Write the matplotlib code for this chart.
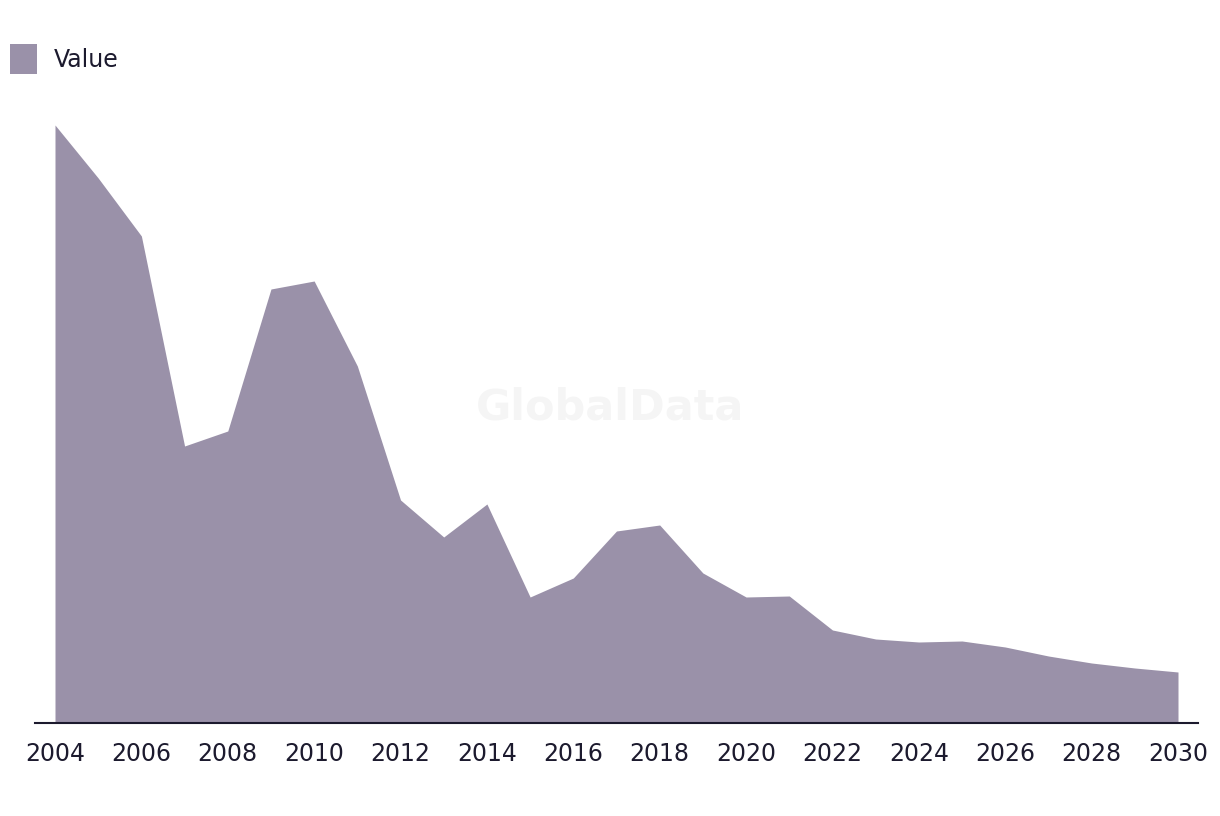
import matplotlib
matplotlib.use('agg')
import matplotlib.pyplot as plt

years = list(range(2004, 2031))
values = [598, 545, 487, 277, 292, 434, 442, 357, 223, 186, 219, 126, 145,
          192, 198, 150, 126, 127, 93, 84, 81, 82, 76, 67, 60, 55, 51]
tick_years = list(range(2004, 2031, 2))

fill_color = '#9a91a9'
text_color = '#1c1a2e'

fig = plt.figure(figsize=(12.2, 8.16), dpi=100)
# axes spans the baseline line (x 35..1198 px, y 723 px)
ax = fig.add_axes([35 / 1220, 1 - 723 / 816, 1163 / 1220, 623 / 816])

# watermark
fig.text(610 / 1220, 1 - 408 / 816, 'GlobalData', fontsize=31, fontweight='bold',
         color='#f5f5f5', ha='center', va='center', zorder=0)

ax.fill_between(years, values, 0, color=fill_color, linewidth=0, label='Value', zorder=2)
ax.set_xlim(2004 - 20 / 43.2, 2030 + 20 / 43.2)
ax.set_ylim(0, 623)
ax.patch.set_alpha(0)

for s in ['top', 'right', 'left']:
    ax.spines[s].set_visible(False)
ax.spines['bottom'].set_color(text_color)
ax.spines['bottom'].set_linewidth(1.5)
ax.set_yticks([])
ax.set_xticks(tick_years)
ax.set_xticklabels([str(y) for y in tick_years])
ax.tick_params(axis='x', length=0, pad=14, labelsize=17, labelcolor=text_color)

leg = ax.legend(loc='upper left', bbox_to_anchor=(10 / 1220, 1 - 44 / 816),
                bbox_transform=fig.transFigure, frameon=False, fontsize=17,
                borderpad=0, borderaxespad=0,
                handlelength=1.15, handleheight=1.6, handletextpad=0.7,
                labelcolor=text_color)

fig.savefig('out.png', dpi=100)
